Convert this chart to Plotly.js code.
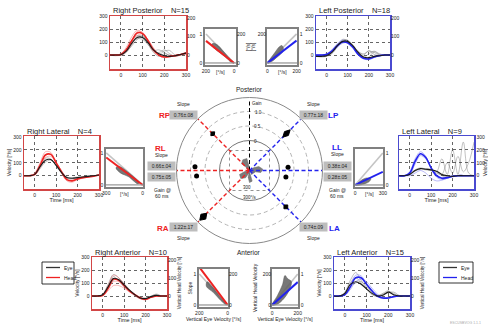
<!DOCTYPE html>
<html><head><meta charset="utf-8">
<script src="https://cdn.plot.ly/plotly-3.0.1.min.js"></script>
<style>html,body{margin:0;padding:0;background:#fff}#chart{width:488px;height:327px}</style>
</head><body><div id="chart"></div>
<script>
const W=488,H=327;
const F='Liberation Sans, Arial, sans-serif';
const RED='#ee2222', RED_L='rgba(240,110,110,0.55)', BLUE='#2222ee', BLUE_L='rgba(110,110,240,0.55)';
const EYE='#1a1a1a', EYE_L='rgba(80,80,80,0.5)';

// ---------- time courses (velocity, deg/s) ----------
const time=[-50,-25,0,25,50,75,100,125,150,175,200,225,250,275,300];

const rpHeadMean=[0,0,5,40,110,170,165,110,40,0,-15,-10,-5,5,15];
const rpHeadRuns=[[0,2,10,60,140,190,170,100,30,-5,-20,-15,-5,5,20],[0,0,0,25,85,150,160,120,55,10,-10,-10,0,5,10],[0,0,3,35,100,180,175,115,45,5,-15,-10,-8,0,15]];
const rpEyeMean=[0,0,3,30,90,135,135,95,40,10,-5,-10,-5,5,15];
const rpEyeRuns=[[0,-5,0,20,80,140,150,100,30,20,40,10,-10,0,10],[0,0,5,40,100,125,120,80,35,40,20,-5,-5,5,20],[0,0,0,25,70,120,140,110,50,5,30,35,0,5,10],[0,0,8,45,110,150,130,85,20,-10,10,0,-5,0,15]];

const lpHeadMean=[0,0,5,30,70,100,95,60,5,-25,-30,-15,-5,0,0];
const lpHeadRuns=[[0,0,10,40,85,115,100,55,0,-30,-35,-20,-5,0,0],[0,0,0,20,60,90,95,70,15,-20,-25,-10,0,0,0],[0,0,5,35,80,105,90,50,0,-25,-30,-15,-5,0,0]];
const lpEyeMean=[-10,-10,-5,20,70,105,105,70,20,-15,-20,-10,-5,0,0];
const lpEyeRuns=[[-10,-15,-10,10,60,110,115,75,25,10,30,20,0,0,0],[-5,-10,0,30,80,95,100,65,15,-20,10,30,10,0,0],[-10,-10,-5,15,65,120,110,60,10,-25,-15,25,5,0,0],[-10,-5,-5,25,75,100,95,70,30,0,35,5,-5,0,0]];

const rlHeadMean=[0,0,10,80,160,165,100,30,-30,-40,-25,-15,-10,-5,5];
const rlHeadRuns=[[0,0,20,100,185,180,100,20,-40,-50,-30,-20,-10,-5,5],[0,0,5,60,140,150,100,40,-20,-35,-20,-10,-10,0,5]];
const rlEyeMean=[0,0,10,70,120,125,80,25,-15,-20,-15,-10,-5,0,5];
const rlEyeRuns=[[0,0,15,85,135,130,75,20,-20,-25,-15,-10,-5,0,5],[0,0,5,55,105,120,85,30,-10,-15,-10,-10,0,0,5]];

const llHeadMean=[0,0,20,110,170,140,60,0,-20,-15,-5,0,0,0,0];
const llHeadRuns=[[0,0,30,130,185,150,55,-10,-30,-20,-5,0,0,0,0],[0,0,10,90,155,130,65,10,-15,-10,-5,0,0,0,0],[0,0,0,20,40,20,-20,-40,-35,-20,-10,0,0,0,0]];
const llEyeMean=[0,0,10,40,55,50,45,35,10,0,-5,0,0,0,0];
const llEyeRuns=[[0,0,10,45,60,50,40,30,130,10,200,10,260,20,0],[0,0,5,35,50,45,40,20,10,100,20,150,30,100,260],[0,0,10,40,55,55,50,30,0,-10,-5,0,0,0,0]];

const raHeadMean=[0,0,5,60,130,120,80,40,10,-15,-25,-10,0,0,0];
const raHeadRuns=[[0,0,10,80,160,140,90,40,5,-20,-30,-10,0,0,0],[0,0,0,40,80,80,60,30,10,-10,-20,-10,0,0,0],[0,0,5,50,110,110,75,35,10,-15,-25,-10,0,0,0]];
const raEyeMean=[0,0,10,70,135,125,85,45,10,-15,-20,-5,5,0,0];
const raEyeRuns=[[0,0,15,90,165,140,90,40,0,-20,-25,0,10,0,0],[0,0,5,55,120,130,95,50,15,-10,-15,-10,0,0,0],[0,0,10,75,150,115,70,35,5,-20,-25,-5,15,0,0]];

const laHeadMean=[0,0,10,70,140,140,90,40,0,-15,-15,-5,0,0,0];
const laHeadRuns=[[0,0,15,90,160,155,95,35,-5,-20,-15,-5,0,0,0],[0,0,5,50,110,130,110,60,15,-10,-15,-5,0,0,0]];
const laEyeMean=[0,0,20,90,110,90,55,20,0,5,30,10,0,0,0];
const laEyeRuns=[[0,0,30,120,180,120,60,15,-5,10,35,20,0,0,0],[0,0,10,70,100,110,75,30,5,15,25,30,5,0,0],[0,0,20,100,140,100,50,10,0,20,40,5,0,0,0]];

// ---------- head vs eye velocity scatter (clouds + regression slopes) ----------
const rpCloudEye=[0,40,80,120,150,160,140,100,60,20,0],  rpCloudHead=[0,40,85,125,135,120,100,70,40,5,0];
const lpCloudEye=[0,20,50,80,100,110,90,60,30,0],        lpCloudHead=[0,30,70,110,120,90,60,35,10,0];
const rlCloudEye=[30,100,200,220,180,120,40,30],         rlCloudHead=[20,100,175,160,110,80,10,20];
const llCloudEye=[10,60,120,170,150,80,10,10],           llCloudHead=[0,40,65,60,30,5,-5,0];
const raCloudEye=[10,60,110,145,150,100,50,10,10],       raCloudHead=[5,60,120,150,120,80,30,0,5];
const laCloudEye=[0,40,80,100,120,150,130,90,40,0],      laCloudHead=[0,60,130,190,170,150,90,40,5,0];
const scatterSlopes={RP:0.76,LP:0.77,RL:0.86,LL:0.41,RA:1.22,LA:0.74};

// ---------- polar summary ----------
const dirAngles=[0,45,90,135,180,225,315];
const dirColors=[BLUE,BLUE,'#000',RED,RED,RED,BLUE];
const slopeAngles=[135,45,225,315];
const slopeMeans=[0.76,0.77,1.22,0.74];
const slopeSDs=[0.08,0.18,0.17,0.09];
const gainDotAngles=[176,186,5,350];
const gainDotValues=[0.85,0.80,0.30,0.24];
const slopeLabels={RP:'0.76±.08',LP:'0.77±.18',RA:'1.22±.17',LA:'0.74±.09',RL:['0.66±.04','0.75±.05'],LL:['0.38±.04','0.28±.05']};
const blobX=[[-20,-60,-120,-100,-40,-20,0,-20],[0,-80,-150,-130,-60,-10,0],[10,60,140,200,170,90,30,20,10],[0,20,40,0,-20,0]];
const blobY=[[0,60,100,160,180,120,40,0],[0,-20,-60,-120,-110,-40,0],[0,40,60,20,-30,-20,-60,-20,0],[-20,-100,-160,-180,-100,-20]];

let ax=0;
const layout={width:W,height:H,margin:{l:0,r:0,t:0,b:0},paper_bgcolor:'#fff',plot_bgcolor:'#fff',showlegend:false,
  font:{family:F,size:5,color:'#222'},annotations:[],shapes:[]};
const traces=[];
const id=n=>n===1?'':String(n);
const tf={family:F,size:5,color:'#222'};
function ann(x,y,text,o){layout.annotations.push(Object.assign({x:x/W,y:1-y/H,xref:'paper',yref:'paper',text:text,showarrow:false,
  font:{family:F,size:5,color:'#222'},xanchor:'center',yanchor:'middle'},o||{}));}

function timePanel(c){
  const n=++ax, xr='x'+id(n), yr='y'+id(n);
  const [x0,x1,y0,y1]=c.frame;
  const X={domain:[x0/W,x1/W],range:[-50,300],anchor:yr,tickvals:[0,100,200,300],showgrid:true,gridcolor:'#000',griddash:'dot',gridwidth:0.6,
    showline:true,linecolor:c.color,linewidth:1.5,mirror:true,ticks:'',tickfont:tf,zeroline:false,fixedrange:true};
  if(c.xTitle) X.title={text:c.xTitle,font:{family:F,size:5.5,color:'#222'},standoff:1};
  layout['xaxis'+id(n)]=X;
  const Y={domain:[1-y1/H,1-y0/H],range:c.yRange,anchor:xr,side:c.side,tickvals:[0,100,200,300],showgrid:true,gridcolor:'#000',griddash:'dot',gridwidth:0.6,
    showline:true,linecolor:c.color,linewidth:1.5,mirror:true,ticks:'',tickfont:tf,zeroline:false,fixedrange:true};
  if(c.yTitle) Y.title={text:c.yTitle,font:{family:F,size:5,color:'#222'},standoff:1};
  layout['yaxis'+id(n)]=Y;
  const base={x:time,xaxis:xr,yaxis:yr,type:'scatter',mode:'lines',hoverinfo:'skip'};
  c.eyeRuns.forEach(r=>traces.push(Object.assign({},base,{y:r,line:{shape:'spline',color:EYE_L,width:0.7}})));
  c.headRuns.forEach(r=>traces.push(Object.assign({},base,{y:r,line:{shape:'spline',color:c.headLight,width:0.9}})));
  traces.push(Object.assign({},base,{y:c.headMean,line:{shape:'spline',color:c.head,width:1.6}}));
  traces.push(Object.assign({},base,{y:c.eyeMean,line:{shape:'spline',color:EYE,width:1.1}}));
  if(c.right){
    const m=++ax;
    const R={overlaying:yr,anchor:xr,side:'right',range:c.right,tickvals:[0,100,200],showgrid:false,showline:false,zeroline:false,ticks:'',tickfont:tf,fixedrange:true};
    if(c.rTitle) R.title={text:c.rTitle,font:{family:F,size:4.5,color:'#222'},standoff:1};
    layout['yaxis'+id(m)]=R;
    traces.push({x:[0],y:[0],xaxis:xr,yaxis:'y'+id(m),type:'scatter',mode:'markers',marker:{opacity:0},hoverinfo:'skip'});
  }
  ann(x0+1,y0-5,c.title,{xanchor:'left',font:{family:F,size:7.5,color:'#222'}});
}

function scatterPanel(c){
  const n=++ax, xr='x'+id(n), yr='y'+id(n);
  const [x0,x1,y0,y1]=c.frame;
  const X={domain:[x0/W,x1/W],range:c.xRange,anchor:yr,tickvals:c.xTicks,showgrid:false,showline:true,linecolor:'#808080',linewidth:1.8,mirror:true,
    ticks:'',tickfont:tf,zeroline:false,fixedrange:true};
  if(c.xTitle) X.title={text:c.xTitle,font:{family:F,size:5,color:'#222'},standoff:1};
  layout['xaxis'+id(n)]=X;
  const Y={domain:[1-y1/H,1-y0/H],range:c.yRange,anchor:xr,side:c.slopeSide,tickvals:[0,c.vmax],ticktext:['0','1'],showgrid:false,showline:true,
    linecolor:'#808080',linewidth:1.8,mirror:true,ticks:'',tickfont:tf,zeroline:false,fixedrange:true};
  if(c.slopeTitle) Y.title={text:c.slopeTitle,font:{family:F,size:5,color:'#222'},standoff:1};
  layout['yaxis'+id(n)]=Y;
  if(c.velTicks){
    const m=++ax;
    const R={overlaying:yr,anchor:xr,side:c.slopeSide==='left'?'right':'left',range:c.yRange,tickvals:c.velTicks,showgrid:false,showline:false,
      zeroline:false,ticks:'',tickfont:tf,fixedrange:true};
    if(c.velTitle) R.title={text:c.velTitle,font:{family:F,size:5,color:'#222'},standoff:c.velStand||1};
    layout['yaxis'+id(m)]=R;
    traces.push({x:[0],y:[0],xaxis:xr,yaxis:'y'+id(m),type:'scatter',mode:'markers',marker:{opacity:0},hoverinfo:'skip'});
  }
  layout.shapes.push({type:'line',xref:xr+' domain',yref:yr,x0:0,x1:1,y0:0,y1:0,line:{color:'#9a9a9a',width:1.3}});
  traces.push({x:[0,c.vmax],y:[0,c.vmax],xaxis:xr,yaxis:yr,type:'scatter',mode:'lines',line:{color:'#c4c4c4',width:1.6},hoverinfo:'skip'});
  traces.push({x:c.cloudEye,y:c.cloudHead,xaxis:xr,yaxis:yr,type:'scatter',mode:'lines',fill:'toself',fillcolor:'rgba(95,95,95,0.85)',
    line:{color:'#555',width:0.5,shape:'spline'},hoverinfo:'skip'});
  traces.push({x:[0,c.vmax],y:[0,c.slope*c.vmax],xaxis:xr,yaxis:yr,type:'scatter',mode:'lines',line:{color:c.color,width:2},hoverinfo:'skip'});
  if(c.unitAnn) ann((x0+x1)/2,y1+7,'[°/s]');
}

const NB='\u00a0\u00a0\u00a0\u00a0';
timePanel({frame:[110,186,16,69],yRange:[-107,300],side:'left',right:[-76,211],color:'#d24646',head:RED,headLight:RED_L,
  headMean:rpHeadMean,headRuns:rpHeadRuns,eyeMean:rpEyeMean,eyeRuns:rpEyeRuns,title:'Right Posterior'+NB+'N=15'});
timePanel({frame:[316,390,16,69],yRange:[-107,300],side:'left',right:[-76,211],color:'#4a4ad0',head:BLUE,headLight:BLUE_L,
  headMean:lpHeadMean,headRuns:lpHeadRuns,eyeMean:lpEyeMean,eyeRuns:lpEyeRuns,title:'Left Posterior'+NB+'N=18'});
timePanel({frame:[24,99,136,189],yRange:[-103,307],side:'left',color:'#d24646',head:RED,headLight:RED_L,xTitle:'Time [ms]',yTitle:'Velocity [°/s]',
  headMean:rlHeadMean,headRuns:rlHeadRuns,eyeMean:rlEyeMean,eyeRuns:rlEyeRuns,title:'Right Lateral'+NB+'N=4'});
timePanel({frame:[399,474,136,189],yRange:[-103,307],side:'right',color:'#4a4ad0',head:BLUE,headLight:BLUE_L,xTitle:'Time [ms]',yTitle:'Velocity [°/s]',
  headMean:llHeadMean,headRuns:llHeadRuns,eyeMean:llEyeMean,eyeRuns:llEyeRuns,title:'Left Lateral'+NB+'N=9'});
timePanel({frame:[92,167,257,309],yRange:[-100,300],side:'left',right:[-72,217],color:'#d24646',head:RED,headLight:RED_L,xTitle:'Time [ms]',
  yTitle:'Velocity [°/s]',rTitle:'Vertical Head Velocity [°/s]',
  headMean:raHeadMean,headRuns:raHeadRuns,eyeMean:raEyeMean,eyeRuns:raEyeRuns,title:'Right Anterior'+NB+'N=10'});
timePanel({frame:[334,410,257,309],yRange:[-100,300],side:'left',right:[-72,217],color:'#4a4ad0',head:BLUE,headLight:BLUE_L,xTitle:'Time [ms]',
  yTitle:'Velocity [°/s]',rTitle:'Vertical Head Velocity [°/s]',
  headMean:laHeadMean,headRuns:laHeadRuns,eyeMean:laEyeMean,eyeRuns:laEyeRuns,title:'Left Anterior'+NB+'N=15'});

scatterPanel({frame:[205,236,29,65],xRange:[207,-14],yRange:[-14,234],vmax:200,slope:scatterSlopes.RP,color:RED,slopeSide:'left',
  velTicks:[0,200],velTitle:'[°/s]',xTicks:[200,0],cloudEye:rpCloudEye,cloudHead:rpCloudHead,unitAnn:true});
scatterPanel({frame:[267,297,29,65],xRange:[-3,203],yRange:[-14,234],vmax:200,slope:scatterSlopes.LP,color:BLUE,slopeSide:'right',
  velTicks:[200],velTitle:'[°/s]',xTicks:[0,200],cloudEye:lpCloudEye,cloudHead:lpCloudHead,unitAnn:true});
scatterPanel({frame:[106,143,149,187],xRange:[302,-2],yRange:[-19,337],vmax:300,slope:scatterSlopes.RL,color:RED,slopeSide:'left',
  xTicks:[300,0],cloudEye:rlCloudEye,cloudHead:rlCloudHead,unitAnn:true});
scatterPanel({frame:[355,383,149,187],xRange:[-2,302],yRange:[-19,337],vmax:300,slope:scatterSlopes.LL,color:BLUE,slopeSide:'right',
  xTicks:[0,300],cloudEye:llCloudEye,cloudHead:llCloudHead,unitAnn:true});
scatterPanel({frame:[199,228,269,307],xRange:[202,-2],yRange:[-13,232],vmax:200,slope:scatterSlopes.RA,color:RED,slopeSide:'left',slopeTitle:'Slope',
  velTicks:[0,200],xTicks:[200,0],xTitle:'Vertical Eye Velocity [°/s]',cloudEye:raCloudEye,cloudHead:raCloudHead});
scatterPanel({frame:[272,298,269,307],xRange:[-2,202],yRange:[-13,232],vmax:200,slope:scatterSlopes.LA,color:BLUE,slopeSide:'right',
  velTicks:[0,200],velTitle:'Vertical Head Velocity',velStand:4,xTicks:[0,200],xTitle:'Vertical Eye Velocity [°/s]',cloudEye:laCloudEye,cloudHead:laCloudHead});

// ---------- polar summary ----------
const CX=249.5, CY=170.5, RO=73, RI=30;
const RMIN=-RI/29, RMAX=(RO-RI)/29;
layout.polar={domain:{x:[(CX-RO)/W,(CX+RO)/W],y:[1-(CY+RO)/H,1-(CY-RO)/H]},bgcolor:'rgba(0,0,0,0)',
  radialaxis:{range:[RMIN,RMAX],tickvals:[0.5,1.0],showticklabels:false,ticks:'',showline:false,showgrid:true,gridcolor:'#b4b4b4',griddash:'4px,3px',gridwidth:1},
  angularaxis:{showline:true,linecolor:'#8a8a8a',linewidth:1,showgrid:false,showticklabels:false,ticks:''}};
layout.polar2={domain:{x:[(CX-RI)/W,(CX+RI)/W],y:[1-(CY+RI)/H,1-(CY-RI)/H]},bgcolor:'rgba(0,0,0,0)',
  radialaxis:{visible:false,range:[0,1]},angularaxis:{showline:true,linecolor:'#777',linewidth:1,showgrid:false,showticklabels:false,ticks:''}};
traces.push({type:'scatterpolar',subplot:'polar2',r:[0],theta:[0],mode:'markers',marker:{opacity:0},hoverinfo:'skip'});

// inner velocity plot (cartesian overlay)
{
  const n=++ax, xr='x'+id(n), yr='y'+id(n);
  layout['xaxis'+id(n)]={domain:[(CX-RI)/W,(CX+RI)/W],range:[-450,450],anchor:yr,visible:false,fixedrange:true};
  layout['yaxis'+id(n)]={domain:[1-(CY+RI)/H,1-(CY-RI)/H],range:[-450,450],anchor:xr,visible:false,fixedrange:true};
  traces.push({x:[-300,300,300,-300,-300],y:[300,300,-300,-300,300],xaxis:xr,yaxis:yr,type:'scatter',mode:'lines',line:{color:'#777',width:0.8,dash:'dot'},hoverinfo:'skip'});
  blobX.forEach((bx,i)=>traces.push({x:bx,y:blobY[i],xaxis:xr,yaxis:yr,type:'scatter',mode:'lines',fill:'toself',fillcolor:'rgba(110,110,110,0.9)',line:{color:'#666',width:0.5},hoverinfo:'skip'}));
}

dirAngles.forEach((a,i)=>{
  const rEnd = a===90 ? 1.4 : RMAX;
  traces.push({type:'scatterpolar',subplot:'polar',r:[RMIN,rEnd],theta:[a,a],mode:'lines',line:{color:dirColors[i],width:a===90?1:1.4,dash:'4px,2.5px'},hoverinfo:'skip'});
});
slopeAngles.forEach((a,i)=>{
  const g=slopeMeans[i], s=slopeSDs[i], d=3;
  traces.push({type:'scatterpolar',subplot:'polar',r:[g-s,g,g+s,g,g-s],theta:[a,a+d,a,a-d,a],mode:'lines',fill:'toself',fillcolor:'#000',line:{color:'#000',width:1},hoverinfo:'skip'});
});
traces.push({type:'scatterpolar',subplot:'polar',r:gainDotValues,theta:gainDotAngles,mode:'markers',marker:{color:'#000',size:5},hoverinfo:'skip'});

// polar labels
const T6={family:F,size:6.5,color:'#222'};
ann(249,89,'Posterior',{font:T6});
ann(249,253,'Anterior',{font:T6});
const lab=(x,y,t,col)=>ann(x,y,'<b>'+t+'</b>',{font:{family:F,size:8,color:col}});
const box=(x,y,t)=>ann(x,y,t,{font:{family:F,size:5,color:'#222'},bgcolor:'#bdbdbd',borderpad:1,width:25});
lab(165,115,'RP',RED); ann(183,104,'Slope'); box(183,115,slopeLabels.RP);
lab(333,115,'LP',BLUE); ann(313,104,'Slope'); box(313,115,slopeLabels.LP);
lab(163,228,'RA',RED); box(183,227,slopeLabels.RA); ann(183,238,'Slope');
lab(334,228,'LA',BLUE); box(313,227,slopeLabels.LA); ann(313,238,'Slope');
lab(160,148,'RL',RED); ann(161,155,'Slope'); box(161,166,slopeLabels.RL[0]); box(161,176.5,slopeLabels.RL[1]); ann(162,190.5,'Gain @'); ann(162,195.5,'60 ms');
lab(337,147,'LL',BLUE); ann(337,154,'Slope'); box(337,166,slopeLabels.LL[0]); box(337,176.5,slopeLabels.LL[1]); ann(337,190.5,'Gain @'); ann(337,195.5,'60 ms');
const T45={family:F,size:4.5,color:'#222'};
ann(257,103,'Gain',{font:T45}); ann(258,112,'1.0',{font:T45}); ann(257,126,'0.5',{font:T45}); ann(255,141,'0',{font:T45});
ann(247,187,'300',{font:T45}); ann(250,197,'300°/s',{font:T45});

// legends
function legend(x0,y0,x1,y1,col){
  layout.shapes.push({type:'rect',xref:'paper',yref:'paper',x0:x0/W,x1:x1/W,y0:1-y1/H,y1:1-y0/H,line:{color:'#000',width:0.8},fillcolor:'#fff'});
  layout.shapes.push({type:'line',xref:'paper',yref:'paper',x0:(x0+4)/W,x1:(x0+18)/W,y0:1-(y0+5.5)/H,y1:1-(y0+5.5)/H,line:{color:'#333',width:1.3}});
  layout.shapes.push({type:'line',xref:'paper',yref:'paper',x0:(x0+4)/W,x1:(x0+18)/W,y0:1-(y0+15.5)/H,y1:1-(y0+15.5)/H,line:{color:col,width:1.3}});
  ann(x0+20,y0+5.5,'Eye',{xanchor:'left'}); ann(x0+20,y0+15.5,'Head',{xanchor:'left'});
}
legend(42,262,74,284,RED);
legend(439,262,473,283,BLUE);
ann(465,323,'ESCUSBVOG 1.1.1',{font:{family:F,size:3.5,color:'#aaa'}});

Plotly.newPlot('chart',traces,layout,{displayModeBar:false,staticPlot:true});
</script></body></html>
